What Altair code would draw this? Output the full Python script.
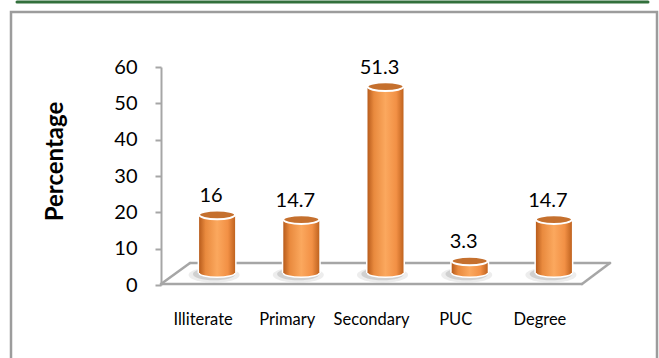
import altair as alt
import pandas as pd

categories = ["Illiterate", "Primary", "Secondary", "PUC", "Degree"]
percentages = [16, 14.7, 51.3, 3.3, 14.7]
y_ticks = [0, 10, 20, 30, 40, 50, 60]

df = pd.DataFrame({"category": categories, "value": percentages})

W, H = 421, 218
FONT = "Lato"
GREY = "#a6a6a6"

ELLIPSE = ("M-1,0C-1,-0.1325,-0.5523,-0.24,0,-0.24C0.5523,-0.24,1,-0.1325,1,0"
           "C1,0.1325,0.5523,0.24,0,0.24C-0.5523,0.24,-1,0.1325,-1,0Z")
SHADOW = ("M-1,0C-1,-0.166,-0.5523,-0.3,0,-0.3C0.5523,-0.3,1,-0.166,1,0"
          "C1,0.166,0.5523,0.3,0,0.3C-0.5523,0.3,-1,0.166,-1,0Z")

body_grad = alt.Gradient(
    gradient="linear", x1=0, x2=1, y1=0, y2=0,
    stops=[
        alt.GradientStop(color="#b85c1c", offset=0),
        alt.GradientStop(color="#e98a3e", offset=0.18),
        alt.GradientStop(color="#fba85e", offset=0.5),
        alt.GradientStop(color="#f29045", offset=0.8),
        alt.GradientStop(color="#c0631f", offset=1),
    ],
)

yax = alt.Axis(
    values=y_ticks, grid=False, domainColor=GREY, domainWidth=2,
    tickColor=GREY, tickWidth=2, tickSize=6,
    labelFont=FONT, labelFontSize=20, labelColor="black", labelPadding=18,
    title="Percentage", titleFont=FONT, titleFontSize=24, titleFontWeight="bold",
    titleColor="black", titleAngle=-90, titleX=-94, titleY=94,
    titleBaseline="bottom", titleAlign="center",
)
yscale = alt.Scale(domain=[0, 60], nice=False)
xenc = alt.X("category:N", sort=categories, axis=None,
             scale=alt.Scale(type="band", domain=categories, paddingInner=0, paddingOuter=0))

base = alt.Chart(df)
deco = alt.Chart(alt.Data(values=[{}]))


def rule(x, y, x2, y2, color=GREY, width=2.5):
    return deco.mark_rule(color=color, strokeWidth=width, strokeCap="round").encode(
        x=alt.value(x), y=alt.value(y), x2=alt.value(x2), y2=alt.value(y2))


green = rule(-144, -65, 487, -65, color="#32703c", width=3)
box = deco.mark_rect(fillOpacity=0, stroke="#9c9c9c", strokeWidth=2.5).encode(
    x=alt.value(-150), x2=alt.value(496), y=alt.value(-55), y2=alt.value(310))

floor = (rule(0, 217, 421, 217) + rule(421, 217, 449, 196)
         + rule(449, 196, 29, 196) + rule(29, 196, 0, 217))

shadow_outer = base.mark_point(shape=SHADOW, size=2600, filled=True, fill="#c4c4c4",
                               opacity=0.3, strokeWidth=0, xOffset=11, yOffset=-10).encode(
    x=xenc, y=alt.Y("b:Q", scale=yscale, axis=yax)).transform_calculate(b="0")
shadow_inner = base.mark_point(shape=SHADOW, size=1800, filled=True, fill="#909090",
                               opacity=0.3, strokeWidth=0, xOffset=11, yOffset=-11).encode(
    x=xenc, y=alt.Y("b:Q", scale=yscale, axis=yax)).transform_calculate(b="0")

white_back = base.mark_bar(width=39, color="white", xOffset=14, yOffset=-12, y2Offset=-12).encode(
    x=xenc, y=alt.Y("value:Q", scale=yscale, axis=yax), y2=alt.Y2("b:Q")).transform_calculate(b="0")

bottom_ell = base.mark_point(shape=ELLIPSE, size=1296, filled=True, fill=body_grad,
                             stroke="white", strokeWidth=1.5, opacity=1,
                             xOffset=14, yOffset=-12).encode(
    x=xenc, y=alt.Y("b:Q", scale=yscale, axis=yax)).transform_calculate(b="0")

body = base.mark_bar(width=36, fill=body_grad, xOffset=14, yOffset=-12, y2Offset=-12).encode(
    x=xenc, y=alt.Y("value:Q", scale=yscale, axis=yax), y2=alt.Y2("b:Q")).transform_calculate(b="0")

top_ell = base.mark_point(shape=ELLIPSE, size=1296, filled=True, fill="#c5702e",
                          stroke="white", strokeWidth=2, opacity=1,
                          xOffset=14, yOffset=-12).encode(
    x=xenc, y=alt.Y("value:Q", scale=yscale, axis=yax))

value_text = base.mark_text(font=FONT, fontSize=20, color="black", baseline="alphabetic",
                            xOffset=8, yOffset=-12, dy=-13).encode(
    x=xenc, y=alt.Y("value:Q", scale=yscale, axis=yax), text=alt.Text("value:Q"))

cat_text = base.mark_text(font=FONT, fontSize=16.5, color="black", baseline="alphabetic", dy=40).encode(
    x=xenc, y=alt.Y("b:Q", scale=yscale, axis=yax), text="category:N").transform_calculate(b="0")

chart = alt.layer(
    green, box, floor, shadow_outer, shadow_inner, white_back, bottom_ell, body, top_ell,
    value_text, cat_text,
).properties(
    width=W, height=H,
    padding={"left": 161, "top": 67, "right": 77, "bottom": 73},
    autosize=alt.AutoSizeParams(type="none"),
    background="white",
).configure_view(stroke=None)

chart.save("out.html", embed_options={"renderer": "svg", "actions": False})
